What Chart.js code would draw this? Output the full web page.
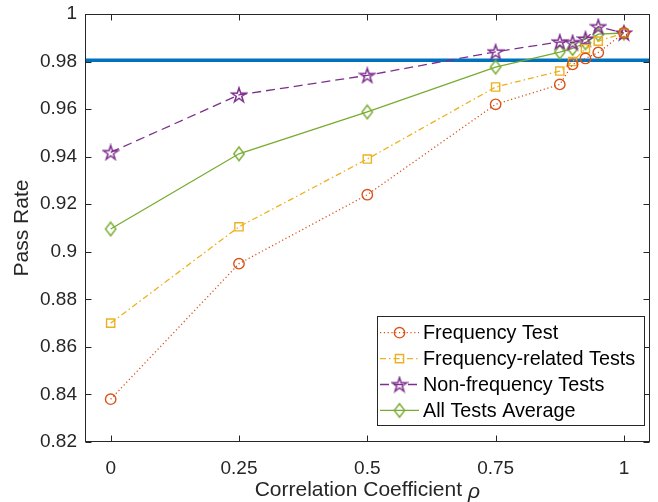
<!DOCTYPE html>
<html>
<head>
<meta charset="utf-8">
<script src="https://cdn.jsdelivr.net/npm/chart.js@4/dist/chart.umd.min.js"></script>
<style>
  html, body { margin: 0; padding: 0; background: #ffffff; }
  #wrap { width: 658px; height: 502px; position: relative; }
</style>
</head>
<body>
<div id="wrap"><canvas id="c" width="658" height="502"></canvas></div>
<script>
// Correlation coefficient values (x) and pass rates per test group
const RHO = [0, 0.25, 0.5, 0.75, 0.875, 0.9, 0.925, 0.95, 1];
const FREQ_TEST = [0.838, 0.895, 0.924, 0.962, 0.9704, 0.9788, 0.9813, 0.9838, 0.992];
const FREQ_RELATED = [0.870, 0.9105, 0.939, 0.9693, 0.976, 0.980, 0.9854, 0.9886, 0.992];
const NON_FREQ = [0.9418, 0.966, 0.9742, 0.9841, 0.9883, 0.988, 0.9895, 0.9947, 0.992];
const ALL_AVG = [0.9096, 0.9412, 0.9588, 0.9777, 0.984, 0.9855, 0.9879, 0.9915, 0.992];
const THRESHOLD = 0.9806;

const SERIES_NAMES = ['Frequency Test', 'Frequency-related Tests', 'Non-frequency Tests', 'All Tests Average'];
const X_TICKS = [0, 0.25, 0.5, 0.75, 1];
const X_TICK_LABELS = ['0', '0.25', '0.5', '0.75', '1'];
const Y_TICKS = [0.82, 0.84, 0.86, 0.88, 0.9, 0.92, 0.94, 0.96, 0.98, 1];
const Y_TICK_LABELS = ['0.82', '0.84', '0.86', '0.88', '0.9', '0.92', '0.94', '0.96', '0.98', '1'];
const X_RANGE = [-0.05, 1.05];
const Y_RANGE = [0.82, 1];

const FONT = "'Liberation Sans', Arial, Helvetica, sans-serif";
const INK = '#262626';
const C_ORANGE = '#D95319', C_YELLOW = '#EDB120', C_PURPLE = '#7E2F8E', C_GREEN = '#77AC30', C_BLUE = '#0072BD';

// Custom marker sprites: five-point star and tall diamond
function starSprite(color) {
  const s = 18, cv = document.createElement('canvas');
  cv.width = s; cv.height = s;
  const g = cv.getContext('2d');
  const cx = s / 2, cy = s / 2 + 0.6, R = 7.6, r = R * 0.382;
  g.beginPath();
  for (let i = 0; i < 10; i++) {
    const a = -Math.PI / 2 + i * Math.PI / 5;
    const rad = i % 2 === 0 ? R : r;
    const px = cx + rad * Math.cos(a), py = cy + rad * Math.sin(a);
    i === 0 ? g.moveTo(px, py) : g.lineTo(px, py);
  }
  g.closePath();
  g.strokeStyle = color; g.lineWidth = 1.5; g.lineJoin = 'miter';
  g.stroke();
  return cv;
}
function diamondSprite(color) {
  const w = 14, h = 17, cv = document.createElement('canvas');
  cv.width = w; cv.height = h;
  const g = cv.getContext('2d');
  const cx = w / 2, cy = h / 2, hw = 5.2, hh = 6.8;
  g.beginPath();
  g.moveTo(cx, cy - hh); g.lineTo(cx + hw, cy); g.lineTo(cx, cy + hh); g.lineTo(cx - hw, cy);
  g.closePath();
  g.strokeStyle = color; g.lineWidth = 1.4;
  g.stroke();
  return cv;
}
const STAR = starSprite(C_PURPLE);
const DIAMOND = diamondSprite(C_GREEN);

function pts(ys) { return RHO.map((x, i) => ({ x: x, y: ys[i] })); }

const seriesDefs = [
  { label: SERIES_NAMES[0], data: FREQ_TEST, color: C_ORANGE, dash: [1.2, 2.6], style: 'circle', radius: 5.2 },
  { label: SERIES_NAMES[1], data: FREQ_RELATED, color: C_YELLOW, dash: [6, 3, 1.5, 3], style: 'rect', radius: 5.8 },
  { label: SERIES_NAMES[2], data: NON_FREQ, color: C_PURPLE, dash: [9, 5], style: STAR, radius: 7 },
  { label: SERIES_NAMES[3], data: ALL_AVG, color: C_GREEN, dash: [], style: DIAMOND, radius: 7 }
];

const datasets = seriesDefs.map(s => ({
  label: s.label,
  data: pts(s.data),
  borderColor: s.color,
  backgroundColor: 'rgba(0,0,0,0)',
  borderWidth: 1.3,
  borderDash: s.dash,
  pointStyle: s.style,
  pointRadius: s.radius,
  pointBorderColor: s.color,
  pointBackgroundColor: 'rgba(0,0,0,0)',
  pointBorderWidth: 1.4,
  tension: 0,
  fill: false
}));

// Pass-rate threshold drawn across the full x range
datasets.push({
  label: 'threshold',
  data: [{ x: X_RANGE[0], y: THRESHOLD }, { x: X_RANGE[1], y: THRESHOLD }],
  borderColor: C_BLUE,
  borderWidth: 3.5,
  pointRadius: 0,
  fill: false
});

// Axes box, inward ticks on all four sides, italic rho axis title, and the boxed legend
const decorPlugin = {
  id: 'decor',
  afterDatasetsDraw(chart) {
    const ctx = chart.ctx, a = chart.chartArea;
    const xs = chart.scales.x, ys = chart.scales.y;
    const L = Math.round(a.left) + 0.5, R = Math.round(a.right) - 0.5;
    const T = Math.round(a.top) + 0.5, B = Math.round(a.bottom) - 0.5;
    ctx.save();
    ctx.setLineDash([]);
    ctx.strokeStyle = INK;
    ctx.lineWidth = 1;
    ctx.strokeRect(L, T, R - L, B - T);
    const tl = 6;
    ctx.beginPath();
    X_TICKS.forEach(v => {
      const px = Math.round(xs.getPixelForValue(v)) + 0.5;
      ctx.moveTo(px, B); ctx.lineTo(px, B - tl);
      ctx.moveTo(px, T); ctx.lineTo(px, T + tl);
    });
    Y_TICKS.forEach(v => {
      const py = Math.round(ys.getPixelForValue(v)) + 0.5;
      ctx.moveTo(L, py); ctx.lineTo(L + tl, py);
      ctx.moveTo(R, py); ctx.lineTo(R - tl, py);
    });
    ctx.stroke();

    // x-axis title with italic rho
    const part1 = 'Correlation Coefficient ';
    const part2 = '\u03C1';
    ctx.fillStyle = INK;
    ctx.textBaseline = 'middle';
    ctx.font = '21px ' + FONT;
    const w1 = ctx.measureText(part1).width;
    ctx.font = 'italic 21px ' + FONT;
    const w2 = ctx.measureText(part2).width;
    const cx = (a.left + a.right) / 2;
    const ty = 490;
    let sx = cx - (w1 + w2) / 2;
    ctx.font = '21px ' + FONT;
    ctx.textAlign = 'left';
    ctx.fillText(part1, sx, ty);
    ctx.font = 'italic 21px ' + FONT;
    ctx.fillText(part2, sx + w1, ty + 2);

    // legend
    const bx = 377.5, by = 316.5, bw = 267, bh = 109;
    ctx.fillStyle = '#ffffff';
    ctx.fillRect(bx, by, bw, bh);
    ctx.strokeStyle = INK;
    ctx.lineWidth = 1;
    ctx.strokeRect(bx, by, bw, bh);
    const rowY0 = 332.7, rowGap = 25.9;
    seriesDefs.forEach((s, i) => {
      const y = rowY0 + i * rowGap;
      ctx.strokeStyle = s.color;
      ctx.lineWidth = 1.3;
      ctx.setLineDash(s.dash);
      ctx.beginPath();
      ctx.moveTo(380, y); ctx.lineTo(419, y);
      ctx.stroke();
      ctx.setLineDash([]);
      if (typeof s.style === 'string') {
        ctx.fillStyle = 'rgba(0,0,0,0)';
        ctx.lineWidth = 1.4;
        Chart.helpers.drawPoint(ctx, { pointStyle: s.style, radius: s.radius, borderWidth: 1.4, rotation: 0 }, 399.5, y);
      } else {
        ctx.drawImage(s.style, 399.5 - s.style.width / 2, y - s.style.height / 2);
      }
      ctx.fillStyle = '#000000';
      ctx.font = '19.8px ' + FONT;
      ctx.textAlign = 'left';
      ctx.textBaseline = 'middle';
      ctx.fillText(s.label, 423, y + 1);
    });
    ctx.restore();
  }
};

new Chart(document.getElementById('c'), {
  type: 'line',
  data: { datasets: datasets },
  plugins: [decorPlugin],
  options: {
    responsive: false,
    animation: false,
    events: [],
    layout: { padding: { top: 14, right: 6, bottom: 0, left: 0 } },
    plugins: { legend: { display: false }, tooltip: { enabled: false } },
    scales: {
      x: {
        type: 'linear',
        min: X_RANGE[0], max: X_RANGE[1],
        grid: { display: false, drawTicks: false },
        border: { display: false },
        afterBuildTicks: sc => { sc.ticks = X_TICKS.map(v => ({ value: v })); },
        afterFit: sc => { sc.height = 60; sc.paddingLeft = 0; sc.paddingRight = 0; },
        ticks: {
          autoSkip: false, maxRotation: 0,
          padding: 15,
          color: INK,
          font: { family: FONT, size: 19 },
          callback: (v, i) => X_TICK_LABELS[i]
        }
      },
      y: {
        type: 'linear',
        min: Y_RANGE[0], max: Y_RANGE[1],
        grid: { display: false, drawTicks: false },
        border: { display: false },
        afterBuildTicks: sc => { sc.ticks = Y_TICKS.map(v => ({ value: v })); },
        afterFit: sc => { sc.width = 85; sc.paddingTop = 0; sc.paddingBottom = 0; },
        title: {
          display: true, text: 'Pass Rate', color: INK,
          font: { family: FONT, size: 21 },
          padding: { top: 10, bottom: 0 }
        },
        ticks: {
          autoSkip: false,
          padding: 8,
          color: INK,
          font: { family: FONT, size: 19 },
          callback: (v, i) => Y_TICK_LABELS[i]
        }
      }
    }
  }
});
</script>
</body>
</html>
